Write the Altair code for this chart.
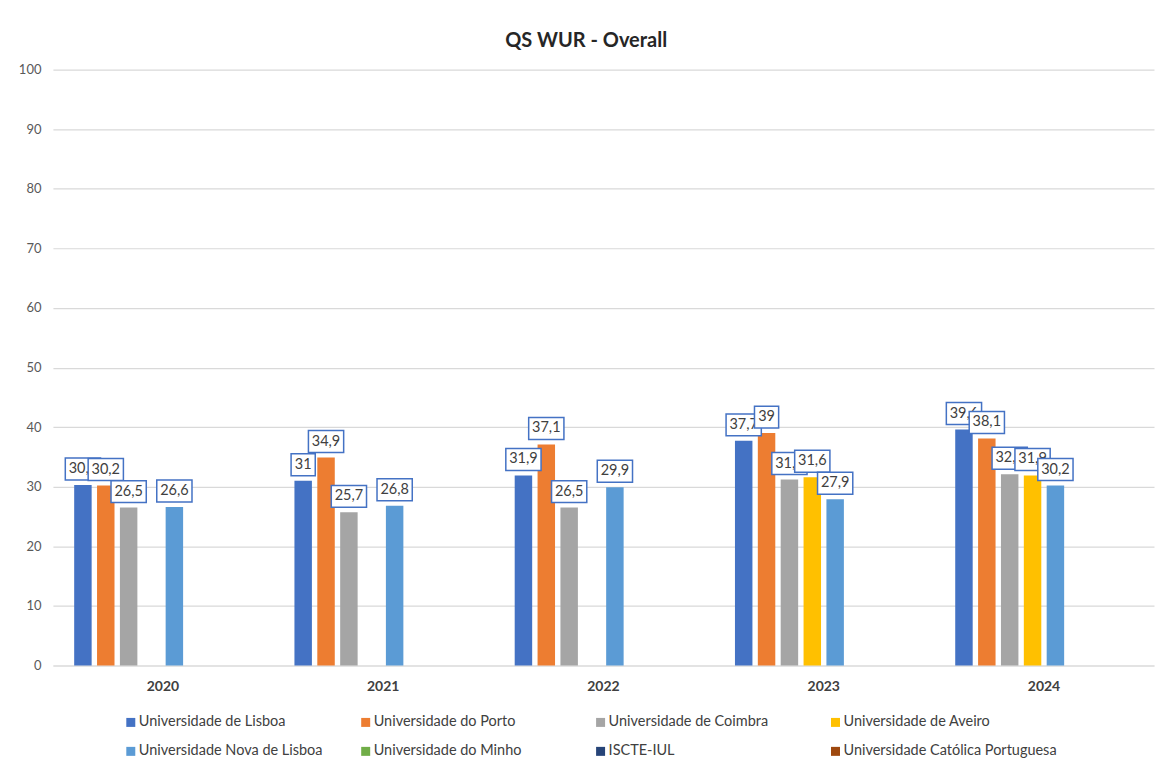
import altair as alt
import pandas as pd

years = ["2020", "2021", "2022", "2023", "2024"]
series = [
    "Universidade de Lisboa", "Universidade do Porto", "Universidade de Coimbra",
    "Universidade de Aveiro", "Universidade Nova de Lisboa", "Universidade do Minho",
    "ISCTE-IUL", "Universidade Católica Portuguesa",
]
colors = ["#4472C4", "#ED7D31", "#A5A5A5", "#FFC000", "#5B9BD5", "#70AD47", "#264478", "#9E480E"]

lisboa = [30.3, 31, 31.9, 37.7, 39.6]
porto = [30.2, 34.9, 37.1, 39, 38.1]
coimbra = [26.5, 25.7, 26.5, 31.2, 32.1]
aveiro = [None, None, None, 31.6, 31.9]
nova = [26.6, 26.8, 29.9, 27.9, 30.2]
minho = [None, None, None, None, None]
iscte = [None, None, None, None, None]
catolica = [None, None, None, None, None]

values_by_series = [lisboa, porto, coimbra, aveiro, nova, minho, iscte, catolica]

FONT = "Lato"
UNIT = 5.0  # px per path unit at symbol size 100 (sqrt(size)/2)


def label_text(v):
    return f"{v:g}".replace(".", ",")


def box_path(txt):
    digits = sum(c.isdigit() for c in txt)
    commas = txt.count(",")
    w = 7.6 * digits + 3.5 * commas + 9
    hw = w / 2 / UNIT
    hh = 11 / UNIT
    return f"M{-hw:.3f},{-hh:.3f}H{hw:.3f}V{hh:.3f}H{-hw:.3f}Z"


rows = []
for s, vals in zip(series, values_by_series):
    for y, v in zip(years, vals):
        if v is None:
            continue
        t = label_text(v)
        rows.append({"year": y, "series": s, "value": v, "label": t, "box": box_path(t)})
df = pd.DataFrame(rows)

x_enc = alt.X("year:N", title=None, sort=years,
              scale=alt.Scale(paddingInner=0.194, paddingOuter=0.0965),
              axis=alt.Axis(labelAngle=0, labelFont=FONT, labelFontSize=14, labelFontWeight="bold",
                            labelColor="#404040", labelPadding=14, ticks=False, domain=True,
                            domainColor="#d9d9d9", domainWidth=1.2, grid=False))
xo_enc = alt.XOffset("series:N", sort=series,
                     scale=alt.Scale(domain=series, paddingInner=0.236, paddingOuter=0))
y_enc = alt.Y("value:Q", title=None,
              scale=alt.Scale(domain=[0, 100], nice=False),
              axis=alt.Axis(values=list(range(0, 101, 10)), labelFont=FONT, labelFontSize=13,
                            labelColor="#595959", labelPadding=12, ticks=False, domain=False,
                            grid=True, gridColor="#d9d9d9", gridWidth=1.2))

base = alt.Chart(df)

bars = base.mark_bar().encode(
    x=x_enc, xOffset=xo_enc, y=y_enc,
    color=alt.Color("series:N", scale=alt.Scale(domain=series, range=colors), legend=None),
)

layers = [bars]
for s in series:
    sub = base.transform_filter(alt.datum.series == s)
    box = sub.mark_point(filled=True, fill="white", stroke="#4472C4", strokeWidth=1.5,
                         opacity=1, size=100, yOffset=-16).encode(
        x=x_enc, xOffset=xo_enc, y=y_enc,
        shape=alt.Shape("box:N", scale=None),
    )
    txt = sub.mark_text(font=FONT, fontSize=14.5, color="#404040", baseline="middle",
                        align="center", yOffset=-16).encode(
        x=x_enc, xOffset=xo_enc, y=y_enc, text="label:N",
    )
    layers += [box, txt]

main = alt.layer(*layers).properties(width=1103, height=597)

# custom legend: 4 columns x 2 rows
leg_df = pd.DataFrame({
    "series": series,
    "col": [i % 4 for i in range(len(series))],
    "row": [i // 4 for i in range(len(series))],
})
leg_x = alt.X("col:Q", axis=None, scale=alt.Scale(domain=[-0.3315, 4.356], nice=False, zero=False))
leg_y = alt.Y("row:O", axis=None, scale=alt.Scale(padding=0.276))
leg_base = alt.Chart(leg_df)
leg_sym = leg_base.mark_square(size=81, opacity=1).encode(
    x=leg_x, y=leg_y,
    color=alt.Color("series:N", scale=alt.Scale(domain=series, range=colors), legend=None),
)
leg_txt = leg_base.mark_text(font=FONT, fontSize=14.5, color="#404040", align="left",
                             baseline="middle", dx=8).encode(
    x=leg_x, y=leg_y, text="series:N",
)
legend = alt.layer(leg_sym, leg_txt).properties(width=1103, height=45)

chart = alt.vconcat(main, legend, spacing=21).properties(
    title=alt.Title("QS WUR - Overall", anchor="middle", frame="bounds", font=FONT,
                    fontSize=20, fontWeight="bold", color="#262626", offset=13),
    padding={"left": 10, "top": 22, "right": 5, "bottom": 0},
    background="white",
).configure_view(stroke=None)

chart.save("out.html", embed_options={"renderer": "svg", "actions": False})
